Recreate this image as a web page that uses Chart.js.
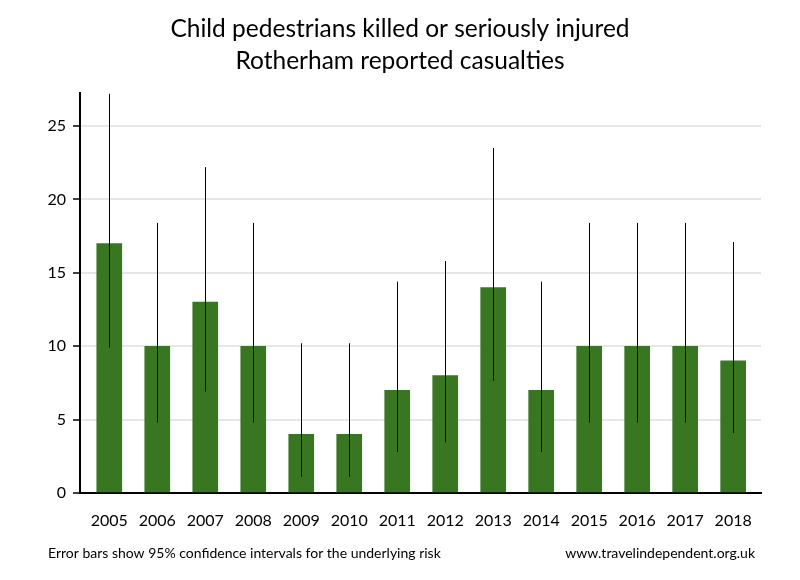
<!DOCTYPE html>
<html>
<head>
<meta charset="utf-8">
<script src="https://cdn.jsdelivr.net/npm/chart.js@4"></script>
<style>
  body { margin: 0; background: #fff; }
  canvas { display: block; }
</style>
</head>
<body>
<canvas id="chart" width="800" height="580"></canvas>
<script>
const years = ['2005', '2006', '2007', '2008', '2009', '2010', '2011', '2012', '2013', '2014', '2015', '2016', '2017', '2018'];
const casualties = [17, 10, 13, 10, 4, 4, 7, 8, 14, 7, 10, 10, 10, 9];
const ciLow = [9.9, 4.8, 6.9, 4.8, 1.1, 1.1, 2.8, 3.45, 7.65, 2.8, 4.8, 4.8, 4.8, 4.1];
const ciHigh = [27.2, 18.4, 22.2, 18.4, 10.2, 10.2, 14.4, 15.8, 23.5, 14.4, 18.4, 18.4, 18.4, 17.1];
const yTicks = [0, 5, 10, 15, 20, 25];

const titleLines = ['Child pedestrians killed or seriously injured', 'Rotherham reported casualties'];
const footNote = 'Error bars show 95% confidence intervals for the underlying risk';
const footSource = 'www.travelindependent.org.uk';

const FONT = 'Lato, "Open Sans", sans-serif';

// vertical error bars, drawn through the chart's own scales
const errorBars = {
  id: 'errorBars',
  afterDatasetsDraw(c) {
    const { ctx, scales: { x, y } } = c;
    ctx.save();
    ctx.strokeStyle = '#000';
    ctx.lineWidth = 1;
    years.forEach((yr, i) => {
      const px = Math.round(x.getPixelForValue(Number(yr))) + 0.5;
      ctx.beginPath();
      ctx.moveTo(px, y.getPixelForValue(ciLow[i]));
      ctx.lineTo(px, y.getPixelForValue(ciHigh[i]));
      ctx.stroke();
    });
    ctx.restore();
  }
};

// titles and footer text
const texts = {
  id: 'texts',
  afterDraw(c) {
    const ctx = c.ctx;
    ctx.save();
    ctx.fillStyle = '#000';
    ctx.textBaseline = 'middle';
    ctx.textAlign = 'center';
    ctx.font = '24.5px ' + FONT;
    ctx.fillText(titleLines[0], 400, 29);
    ctx.fillText(titleLines[1], 400, 61);
    ctx.font = '14px ' + FONT;
    ctx.textAlign = 'left';
    ctx.fillText(footNote, 48, 553);
    ctx.textAlign = 'right';
    ctx.fillText(footSource, 755, 553);
    ctx.restore();
  }
};

new Chart(document.getElementById('chart'), {
  type: 'bar',
  data: {
    datasets: [{
      data: years.map((yr, i) => ({ x: Number(yr), y: casualties[i] })),
      backgroundColor: '#387622',
      barThickness: 25
    }]
  },
  options: {
    responsive: false,
    animation: false,
    layout: { padding: { top: 93, left: 0, right: 39, bottom: 47 } },
    plugins: { legend: { display: false }, tooltip: { enabled: false }, title: { display: false } },
    scales: {
      x: {
        type: 'linear',
        min: 2004.39,
        max: 2018.58,
        offset: false,
        afterFit: (s) => { s.height = 40; },
        border: { color: '#000', width: 2 },
        grid: { display: false, drawTicks: false },
        ticks: {
          stepSize: 1,
          includeBounds: false,
          padding: 18,
          color: '#000',
          font: { family: FONT, size: 16 },
          callback: (v) => String(v)
        }
      },
      y: {
        min: 0,
        max: 27.25,
        afterFit: (s) => { s.width = 80; },
        border: { color: '#000', width: 2 },
        grid: { color: '#e6e6e6', lineWidth: 2, tickLength: 7, tickColor: '#000', tickWidth: 1.5 },
        afterBuildTicks: (s) => { s.ticks = yTicks.map(v => ({ value: v })); },
        ticks: {
          padding: 7,
          color: '#000',
          font: { family: FONT, size: 16 }
        }
      }
    }
  },
  plugins: [errorBars, texts]
});
</script>
</body>
</html>
